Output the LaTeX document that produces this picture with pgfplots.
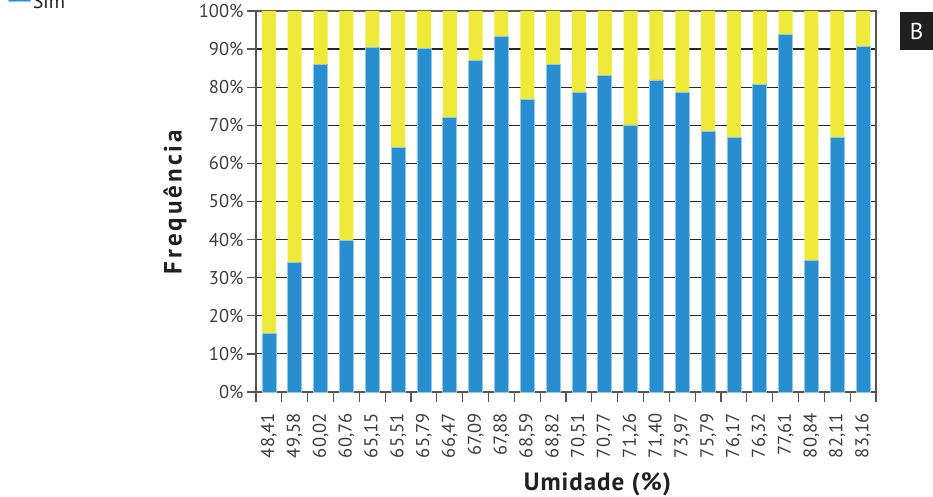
\documentclass[border=0pt]{standalone}
\usepackage{fontspec}
\setmainfont{PT Sans}
\usepackage{pgfplots}
\pgfplotsset{compat=1.18}
\definecolor{simblue}{RGB}{41,142,208}
\definecolor{naoyellow}{RGB}{239,234,58}
\definecolor{bluedge}{RGB}{150,200,235}
\definecolor{txt}{RGB}{35,31,32}
\definecolor{ticktxt}{RGB}{60,60,60}
\definecolor{axgray}{RGB}{85,85,85}
\begin{document}
\begin{tikzpicture}[x=1pt,y=1pt]
\useasboundingbox (-256,-105) rectangle (677,392);
\begin{axis}[
  at={(0,0)}, anchor=south west,
  scale only axis, width=620pt, height=381pt,
  xmin=-0.5, xmax=23.5, ymin=0, ymax=100,
  ybar stacked, bar width=14pt,
  xtick={0,...,23},
  xticklabels={{48,41},{49,58},{60,02},{60,76},{65,15},{65,51},{65,79},{66,47},{67,09},{67,88},{68,59},{68,82},{70,51},{70,77},{71,26},{71,40},{73,97},{75,79},{76,17},{76,32},{77,61},{80,84},{82,11},{83,16}},
  minor xtick={-0.5,0.5,...,23.5},
  major x tick style={draw=none},
  minor tick length=10pt,
  major tick length=9pt,
  tick align=outside, tick pos=left,
  tick style={axgray, line width=1.3pt},
  ytick={0,10,...,100},
  yticklabels={0\%,10\%,20\%,30\%,40\%,50\%,60\%,70\%,80\%,90\%,100\%},
  /pgf/number format/assume math mode=true,
  ymajorgrids,
  major grid style={black!85, line width=1.2pt},
  axis line style={axgray, line width=1.5pt},
  xticklabel style={rotate=90, anchor=east, font=\fontsize{18.5}{21}\selectfont, text=ticktxt, xshift=-9pt},
  yticklabel style={font=\fontsize{18.5}{21}\selectfont, text=ticktxt},
  xlabel={Umidade (\%)},
  xlabel style={at={(axis description cs:0.5508,0)}, anchor=base, yshift=-98pt, font=\fontsize{25}{29}\selectfont\bfseries\addfontfeature{LetterSpace=4}, text=txt},
  ylabel={Frequência},
  ylabel style={at={(axis description cs:0,0.4987)}, anchor=center, yshift=81pt, font=\fontsize{25}{29}\selectfont\bfseries\addfontfeature{LetterSpace=12}, text=txt},
  legend entries={Sim, Não},
  reverse legend,
  legend style={at={(axis description cs:-0.4,0.998)}, anchor=south west, draw=none, fill=none, inner sep=0pt, font=\fontsize{20}{24}\selectfont, text=txt, cells={anchor=west}, row sep=4pt},
  legend image code/.code={\fill[#1] (0pt,0pt) rectangle (22pt,16pt);},
]
\addplot[fill=simblue, draw=bluedge, line width=0.6pt] coordinates {
(0,15.3) (1,34.1) (2,86.0) (3,39.7) (4,90.5) (5,64.3) (6,90.1) (7,72.1)
(8,87.0) (9,93.4) (10,76.8) (11,86.0) (12,78.6) (13,83.2) (14,70.1) (15,81.9)
(16,78.6) (17,68.5) (18,66.8) (19,80.8) (20,93.9) (21,34.6) (22,66.8) (23,90.8)};
\addplot[fill=naoyellow, draw=none] coordinates {
(0,84.7) (1,65.9) (2,14.0) (3,60.3) (4,9.5) (5,35.7) (6,9.9) (7,27.9)
(8,13.0) (9,6.6) (10,23.2) (11,14.0) (12,21.4) (13,16.8) (14,29.9) (15,18.1)
(16,21.4) (17,31.5) (18,33.2) (19,19.2) (20,6.1) (21,65.4) (22,33.2) (23,9.2)};
\end{axis}
\fill[black!88] (644,342) rectangle (677,380);
\node[text=white, font=\fontsize{23}{26}\selectfont] at (660.5,361) {B};
\end{tikzpicture}
\end{document}
